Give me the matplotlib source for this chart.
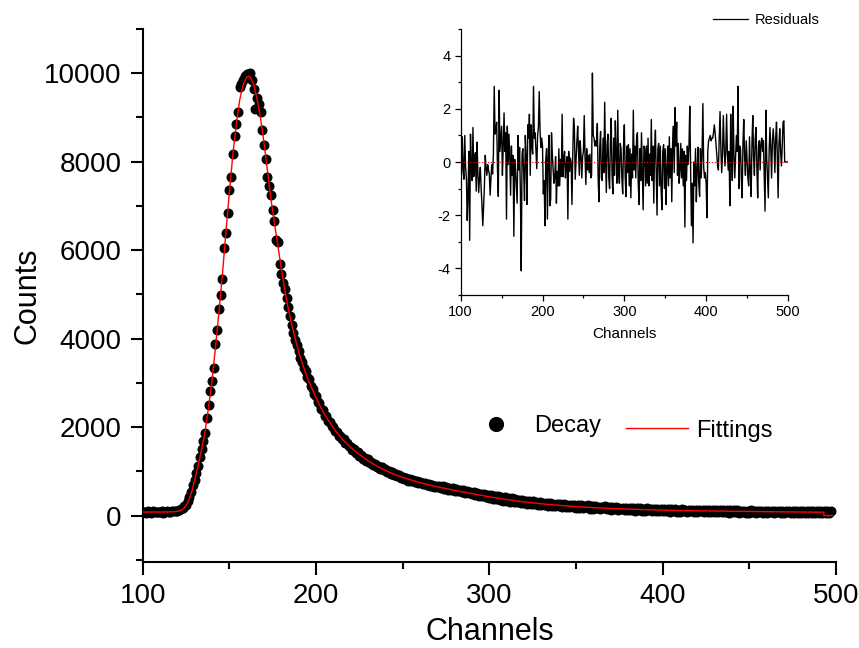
import matplotlib
matplotlib.use("Agg")
import matplotlib.pyplot as plt
from matplotlib.lines import Line2D
from matplotlib.ticker import MultipleLocator

plt.rcParams["font.family"] = ["Liberation Sans", "DejaVu Sans"]
plt.rcParams["axes.unicode_minus"] = False

# Decay counts, one value per channel (100 .. 497)
decay_start = 100
decay_counts = [
    72, 88, 61, 93, 79, 66, 97, 81, 70, 90,
    74, 95, 67, 85, 99, 73, 90, 96, 104, 111,
    108, 126, 148, 182, 214, 250, 322, 420, 540, 680,
    800, 960, 1110, 1330, 1500, 1680, 1870, 2200, 2500, 2820,
    3050, 3330, 3880, 4200, 4680, 4980, 5340, 6050, 6380, 6850,
    7350, 7650, 8180, 8590, 8860, 9120, 9700, 9760, 9850, 9930,
    9990, 9970, 10000, 9840, 9650, 9200, 9450, 9310, 9120, 8710,
    8370, 8070, 7650, 7450, 7240, 6900, 6670, 6220, 6180, 5690,
    5470, 5250, 5120, 4930, 4710, 4520, 4300, 4130, 3960, 3850,
    3710, 3570, 3480, 3340, 3270, 3130, 3080, 2930, 2870, 2750,
    2710, 2570, 2550, 2420, 2380, 2260, 2250, 2140, 2120, 2020,
    2010, 1910, 1900, 1800, 1790, 1720, 1730, 1640, 1640, 1570,
    1560, 1490, 1500, 1410, 1430, 1350, 1370, 1290, 1310, 1240,
    1270, 1190, 1210, 1140, 1170, 1100, 1130, 1060, 1090, 1020,
    1050, 990, 1010, 950, 980, 920, 950, 890, 920, 860,
    880, 821, 846, 792, 829, 771, 810, 762, 785, 744,
    758, 731, 709, 742, 688, 715, 671, 696, 650, 678,
    641, 679, 622, 663, 598, 650, 585, 628, 571, 612,
    560, 603, 548, 581, 522, 569, 511, 550, 503, 537,
    478, 526, 471, 508, 452, 493, 440, 481, 428, 466,
    392, 468, 380, 452, 366, 440, 352, 428, 340, 414,
    330, 398, 318, 386, 310, 374, 298, 362, 288, 350,
    278, 340, 268, 330, 260, 320, 252, 311, 244, 302,
    238, 294, 230, 286, 224, 278, 218, 270, 212, 264,
    206, 258, 200, 251, 195, 245, 190, 239, 185, 233,
    170, 236, 181, 228, 166, 221, 190, 232, 158, 214,
    152, 210, 171, 204, 144, 199, 166, 212, 139, 193,
    131, 190, 148, 186, 126, 181, 142, 179, 120, 176,
    118, 172, 130, 170, 109, 166, 126, 162, 104, 158,
    106, 160, 118, 156, 99, 151, 113, 149, 94, 146,
    96, 148, 108, 145, 90, 141, 104, 139, 86, 136,
    88, 139, 99, 136, 82, 132, 96, 130, 79, 127,
    81, 131, 92, 128, 75, 125, 89, 123, 72, 120,
    76, 125, 86, 122, 70, 119, 83, 117, 67, 115,
    71, 120, 81, 117, 66, 114, 79, 112, 63, 110,
    67, 115, 77, 112, 62, 110, 75, 108, 59, 106,
    63, 111, 73, 108, 58, 106, 71, 104, 56, 102,
    60, 107, 70, 104, 55, 102, 68, 100, 53, 99,
    57, 103, 67, 101, 52, 99, 65, 97, 50, 96,
    55, 100, 64, 98, 50, 96, 62, 94,
]
decay_channels = list(range(decay_start, decay_start + len(decay_counts)))

# Fitted curve
fit_channels = [
    100, 110, 118, 120, 122, 124, 126, 128, 130, 132,
    134, 136, 138, 140, 142, 144, 146, 148, 150, 152,
    154, 156, 158, 160, 161, 162, 164, 166, 168, 170,
    172, 174, 176, 178, 180, 182, 184, 186, 188, 190,
    192, 195, 198, 202, 206, 210, 215, 220, 225, 230,
    235, 240, 245, 250, 260, 270, 280, 290, 300, 310,
    320, 330, 340, 350, 360, 370, 380, 390, 400, 420,
    440, 460, 480, 493, 493, 498,
]
fit_counts = [
    80, 80, 85, 95, 115, 170, 290, 500, 800, 1130,
    1500, 1900, 2450, 3050, 3800, 4600, 5450, 6400, 7300, 8150,
    8850, 9400, 9750, 9910, 9930, 9920, 9750, 9420, 8980, 8420,
    7800, 7150, 6620, 6100, 5580, 5100, 4680, 4320, 4000, 3700,
    3450, 3120, 2840, 2500, 2220, 1980, 1730, 1540, 1380, 1240,
    1120, 1020, 935, 860, 745, 650, 570, 495, 425, 362,
    308, 266, 232, 203, 180, 160, 146, 133, 123, 108,
    97, 88, 80, 75, 0, 0,
]

# Weighted residuals, one per channel (100 .. 500)
resid_values = [
    1.2, -0.45, 0.95, -0.3, -0.65, 1.0, -0.2, -0.6, -2.2, -1.2,
    0.4, -2.95, 1.05, -0.3, -0.7, 1.3, -0.55, 0.1, 0.35, -1.1,
    0.75, -0.4, -1.15, -0.6, -0.2, -1.0, -1.6, -2.4, -1.7, -0.9,
    0.25, -0.2, -0.5, -0.1, -0.3, -0.45, -1.25, -0.6, -0.1, -0.45,
    0.3, 2.85, 1.05, 1.2, 1.5, -0.3, -1.3, 2.7, 0.4, 0.9,
    1.35, -0.5, 0.6, 1.85, 0.4, 1.1, -2.15, 1.35, -0.1, 1.05,
    0.2, -1.25, 0.6, -0.5, 0.25, -2.8, 0.1, -0.3, -0.9, -1.55,
    1.0, -0.3, 0.55, -1.2, -4.1, 0.3, 0.5, -0.4, -1.45, 1.0,
    0.2, -1.6, 1.4, 0.9, 1.8, -0.5, 1.4, 0.6, 0.3, 2.85,
    0.9, 1.1, 0.4, -0.25, 1.0, 1.3, 2.65, 1.2, 0.55, 0.9,
    0.6, -1.2, -0.7, -2.4, 0.1, 0.5, -2.15, 0.2, 1.0, -1.65,
    -1.4, 1.1, 0.3, -0.3, -0.8, -0.55, 0.2, -1.55, -0.35, -0.9,
    0.5, -0.9, 0.1, -0.55, 1.8, -0.55, 0.1, 0.4, -0.6, -0.1,
    0.2, -2.15, 0.4, -0.35, 0.15, 0.0, -1.6, 0.3, 1.65, 1.2,
    -0.65, 0.1, 0.75, 1.35, 0.4, -0.5, 0.8, 0.3, -0.6, 0.2,
    0.4, 1.75, 0.2, -0.85, 0.5, -0.3, 0.25, -0.4, 0.3, -0.6,
    -0.5, 3.35, 1.0, 0.9, 0.6, 0.8, 0.6, 1.45, -0.6, -1.5,
    0.6, 1.15, -0.6, -0.7, 0.9, -0.4, 2.25, 0.3, -1.15, 0.7,
    1.05, -0.6, -1.0, 0.8, 1.65, -0.5, -1.2, 0.9, -0.5, 1.55,
    0.2, -0.8, 1.95, -0.4, -0.8, 0.7, 0.5, -0.6, -1.2, 0.6,
    1.4, -0.5, -1.3, 0.6, -0.4, 0.65, -0.9, 0.5, -1.35, 0.3,
    -0.6, 1.95, -0.3, 0.6, -0.6, 0.9, 1.1, -0.8, -1.6, 0.5,
    -0.7, 1.1, -0.4, -1.8, 0.6, 0.5, -0.9, 0.6, -0.8, 0.9,
    -0.9, 0.3, -0.5, 1.6, -0.7, 0.6, -1.55, 0.4, 1.2, -0.5,
    -2.0, 0.5, 0.7, -0.9, 0.6, -1.1, -1.8, 0.4, 0.65, -1.0,
    0.5, -1.6, -0.3, 0.6, -0.9, 0.95, -0.6, 0.5, -1.5, 0.7,
    1.35, -0.4, 2.05, 0.6, 1.5, -0.5, 0.7, -0.8, -0.3, 0.7,
    -0.6, 0.5, -0.9, 0.4, -2.45, 0.25, -0.7, 0.6, -0.1, 0.6,
    2.1, -0.2, -2.4, -0.8, -3.05, 0.0, -0.9, 0.5, -1.5, -0.3,
    0.55, -0.8, -1.3, 0.5, -0.6, 0.3, 2.2, -0.2, -0.6, -0.4,
    -0.8, -2.1, 0.4, 0.8, 0.9, 1.0, 0.8, 0.9, 0.9, 1.1,
    1.4, 1.1, 0.7, 0.3, -0.15, -0.3, 0.9, 1.9, 0.5, -0.4,
    0.3, 1.75, 0.6, -0.15, 0.4, 1.8, 0.3, -0.3, 0.4, -1.65,
    1.8, 0.2, -0.7, 2.1, 0.3, -0.6, 0.2, 1.0, 0.4, 2.85,
    -1.0, 0.6, 0.5, -0.6, -1.35, 0.7, 1.6, 0.2, -0.5, 0.8,
    0.1, -0.6, -0.9, 0.95, -0.4, -1.3, 0.7, 1.75, 0.2, -0.5,
    0.9, 1.3, -0.2, -1.35, 0.6, 0.8, -0.3, 0.7, 0.9, 0.4,
    0.8, -0.5, -1.85, 1.95, 0.2, -0.6, -1.35, 0.4, 1.3, 0.5,
    -0.6, 0.8, 1.25, 0.7, -0.4, 0.9, 1.5, 0.2, -1.35, 0.7,
    1.25, 0.4, -0.15, 0.6, 1.5, 1.55, 0.0, 0.0, 0.0, 0.0,
    0.0,
]
resid_channels = list(range(100, 100 + len(resid_values)))

fig = plt.figure(figsize=(8.59, 6.48), dpi=100)

# main panel
ax = fig.add_axes([0.1661, 0.1327, 0.8071, 0.8225])
ax.plot(decay_channels, decay_counts, "o", color="black", ms=6.2, zorder=2)
ax.plot(fit_channels, fit_counts, color="red", lw=1.0, zorder=3)
ax.set_xlim(100, 500)
ax.set_ylim(-1050, 11000)
ax.xaxis.set_major_locator(MultipleLocator(100))
ax.xaxis.set_minor_locator(MultipleLocator(50))
ax.yaxis.set_major_locator(MultipleLocator(2000))
ax.yaxis.set_minor_locator(MultipleLocator(1000))
for s in ["top", "right"]:
    ax.spines[s].set_visible(False)
for s in ["left", "bottom"]:
    ax.spines[s].set_linewidth(1.5)
ax.tick_params(which="major", direction="out", length=9, width=1.5, labelsize=20, pad=6)
ax.tick_params(which="minor", direction="out", length=5, width=1.5)
ax.set_xlabel("Channels", fontsize=22, labelpad=6)
ax.set_ylabel("Counts", fontsize=22, labelpad=1)

# legend entries
h_decay = Line2D([], [], marker="o", ls="none", color="black", ms=6.2)
fig.legend([h_decay], ["Decay"], loc="center left", bbox_to_anchor=(0.5496, 0.3421),
           frameon=False, borderpad=0, borderaxespad=0, handlelength=2.0,
           handletextpad=0.64, fontsize=17, markerscale=1.6)
h_fit = Line2D([], [], color="red", lw=1.0)
fig.legend([h_fit], ["Fittings"], loc="center left", bbox_to_anchor=(0.7288, 0.3353),
           frameon=False, borderpad=0, borderaxespad=0, handlelength=2.64,
           handletextpad=0.33, fontsize=17)

# inset with residuals
axi = fig.add_axes([0.5363, 0.5452, 0.381, 0.4096])
axi.plot(resid_channels, resid_values, color="black", lw=1.0)
axi.axhline(0, color="red", ls=":", lw=0.8)
axi.set_xlim(100, 500)
axi.set_ylim(-5, 5)
axi.xaxis.set_major_locator(MultipleLocator(100))
axi.xaxis.set_minor_locator(MultipleLocator(50))
axi.yaxis.set_major_locator(MultipleLocator(2))
axi.yaxis.set_minor_locator(MultipleLocator(1))
for s in ["top", "right"]:
    axi.spines[s].set_visible(False)
for s in ["left", "bottom"]:
    axi.spines[s].set_linewidth(0.9)
axi.tick_params(which="major", direction="out", length=4.5, width=0.9, labelsize=10.5, pad=3)
axi.tick_params(which="minor", direction="out", length=2.5, width=0.9)
axi.set_xlabel("Channels", fontsize=11, labelpad=6)

h_res = Line2D([], [], color="black", lw=0.9)
fig.legend([h_res], ["Residuals"], loc="center left", bbox_to_anchor=(0.830, 0.969),
           frameon=False, borderpad=0, borderaxespad=0, handlelength=2.4,
           handletextpad=0.48, fontsize=10.5)

fig.savefig("out.png", dpi=100)
